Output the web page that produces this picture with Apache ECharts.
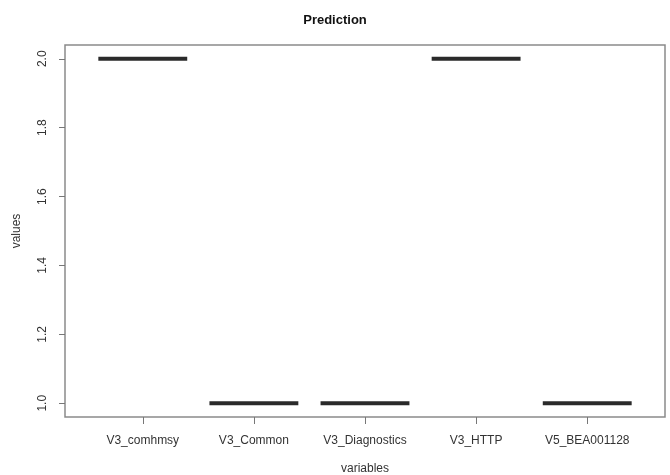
<!DOCTYPE html>
<html>
<head>
<meta charset="utf-8">
<script src="https://cdn.jsdelivr.net/npm/echarts@6/dist/echarts.min.js"></script>
<style>
  html, body { margin: 0; padding: 0; background: #fff; }
  #chart { width: 670px; height: 475px; }
</style>
</head>
<body>
<div id="chart"></div>
<script>
const categories = ['V3_comhmsy', 'V3_Common', 'V3_Diagnostics', 'V3_HTTP', 'V5_BEA001128']
const medians = [2, 1, 1, 2, 1]
const yTicks = [1.0, 1.2, 1.4, 1.6, 1.8, 2.0]

const font = 'Liberation Sans, Arial, sans-serif'
const chart = echarts.init(document.getElementById('chart'))

chart.setOption({
  animation: false,
  title: {
    text: 'Prediction',
    left: 'center',
    top: 9,
    textStyle: { fontFamily: font, fontSize: 13, fontWeight: 'bold', color: '#111' }
  },
  grid: {
    left: 65, right: 5, top: 45, bottom: 58,
    outerBoundsMode: 'none',
    containLabel: false,
    show: true, borderColor: '#8a8a8a', borderWidth: 1.5
  },
  xAxis: {
    type: 'value',
    min: 0.3,
    max: 5.7,
    name: 'variables',
    nameLocation: 'middle',
    nameGap: 46,
    nameTextStyle: { fontFamily: font, fontSize: 12, color: '#333' },
    splitLine: { show: false },
    axisLine: { show: false },
    axisTick: { show: true, length: 7, customValues: [1, 2, 3, 4, 5], lineStyle: { color: '#777' } },
    axisLabel: {
      customValues: [1, 2, 3, 4, 5],
      margin: 18,
      fontFamily: font, fontSize: 12, color: '#333',
      formatter: v => categories[Math.round(v) - 1]
    }
  },
  yAxis: {
    type: 'value',
    min: 0.96,
    max: 2.04,
    name: 'values',
    nameLocation: 'middle',
    nameGap: 42,
    nameRotate: 90,
    nameTextStyle: { fontFamily: font, fontSize: 12, color: '#333' },
    splitLine: { show: false },
    axisLine: { show: false },
    axisTick: { show: true, length: 6, customValues: yTicks, lineStyle: { color: '#777' } },
    axisLabel: {
      customValues: yTicks,
      rotate: 90,
      margin: 16,
      fontFamily: font, fontSize: 12, color: '#333',
      formatter: v => v.toFixed(1)
    }
  },
  series: [{
    type: 'custom',
    data: medians.map((m, i) => [i + 1, m]),
    renderItem: (params, api) => {
      const x = api.value(0)
      const y = api.value(1)
      const a = api.coord([x - 0.4, y])
      const b = api.coord([x + 0.4, y])
      return {
        type: 'line',
        shape: { x1: a[0], y1: a[1], x2: b[0], y2: b[1] },
        style: { stroke: '#2a2a2a', lineWidth: 4, lineCap: 'butt' }
      }
    }
  }]
})
</script>
</body>
</html>
